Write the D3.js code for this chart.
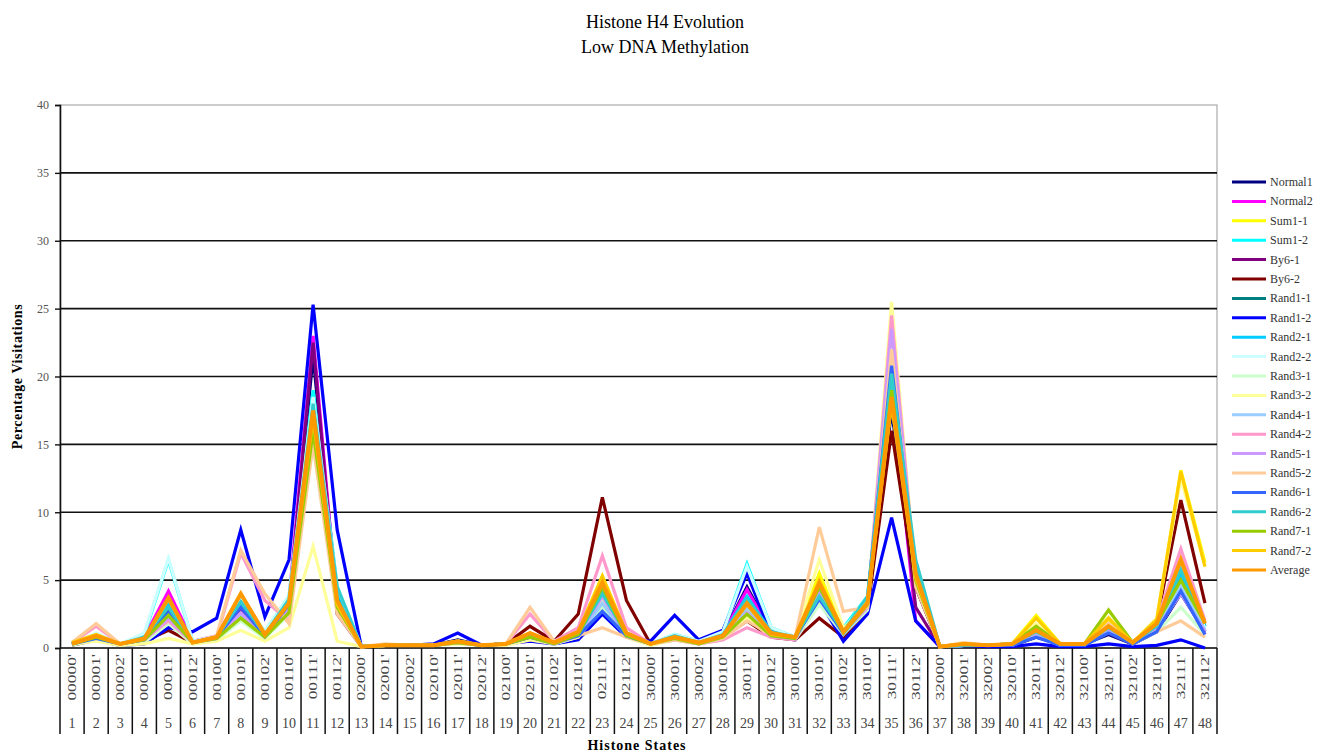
<!DOCTYPE html>
<html>
<head>
<meta charset="utf-8">
<script src="https://cdn.jsdelivr.net/npm/d3@7/dist/d3.min.js"></script>
<style>
  body { margin: 0; background: #fff; }
  svg { display: block; font-family: "Liberation Serif", "Times New Roman", serif; }
</style>
</head>
<body>
<svg id="chart" width="1332" height="752"></svg>
<script>
var states = ["00000","00001","00002","00010","00011","00012","00100","00101","00102","00110","00111","00112",
  "02000","02001","02002","02010","02011","02012","02100","02101","02102","02110","02111","02112",
  "30000","30001","30002","30010","30011","30012","30100","30101","30102","30110","30111","30112",
  "32000","32001","32002","32010","32011","32012","32100","32101","32102","32110","32111","32112"];

var seriesNames = ["Normal1","Normal2","Sum1-1","Sum1-2","By6-1","By6-2","Rand1-1","Rand1-2","Rand2-1","Rand2-2",
  "Rand3-1","Rand3-2","Rand4-1","Rand4-2","Rand5-1","Rand5-2","Rand6-1","Rand6-2","Rand7-1","Rand7-2","Average"];

var seriesColors = ["#000080","#ff00ff","#ffff00","#00ffff","#800080","#800000","#008080","#0000ff","#00ccff","#ccffff",
  "#ccffcc","#ffff99","#99ccff","#ff99cc","#cc99ff","#ffcc99","#3366ff","#33cccc","#99cc00","#ffcc00","#ff9900"];

var yTicks = [0, 5, 10, 15, 20, 25, 30, 35, 40];

// percentage visitations per state, one row per series
var normal1 = [0.3,0.8,0.3,0.6,2.8,0.5,0.8,3.0,1.0,3.2,21.5,3.5,0.1,0.2,0.2,0.2,0.6,0.2,0.3,0.9,0.4,1.0,3.5,1.0,0.3,0.9,0.4,1.0,4.5,1.2,0.8,3.8,1.0,3.0,17.5,4.5,0.1,0.2,0.2,0.2,0.8,0.3,0.3,1.0,0.3,1.2,4.0,1.2];
var normal2 = [0.3,0.8,0.3,0.8,4.2,0.5,0.9,3.0,1.0,3.5,23.0,3.0,0.1,0.2,0.2,0.2,0.5,0.2,0.3,1.0,0.4,1.2,4.2,1.0,0.3,0.8,0.4,1.0,4.3,1.2,0.8,4.0,1.0,3.0,19.5,2.0,0.1,0.2,0.2,0.2,1.0,0.3,0.3,1.2,0.4,1.2,4.3,1.0];
var sum11 = [0.4,1.0,0.3,0.7,3.5,0.4,0.8,3.8,1.0,3.2,15.5,3.0,0.1,0.2,0.2,0.2,0.5,0.2,0.3,1.0,0.4,1.2,5.3,1.0,0.3,0.8,0.4,0.9,3.0,1.0,0.8,5.5,1.2,3.5,18.0,5.0,0.1,0.3,0.2,0.3,2.4,0.3,0.3,2.0,0.4,2.0,13.1,6.3];
var sum12 = [0.3,1.0,0.3,1.0,6.5,0.5,0.8,3.6,1.2,3.8,19.0,4.5,0.1,0.2,0.2,0.2,0.5,0.2,0.3,0.9,0.4,1.0,3.2,1.0,0.3,1.0,0.5,1.2,6.2,1.5,0.8,3.5,1.5,3.8,20.0,6.0,0.1,0.2,0.2,0.3,1.0,0.3,0.3,1.2,0.4,1.5,5.0,1.5];
var by61 = [0.3,0.7,0.3,0.6,3.0,0.4,0.8,2.8,0.9,3.0,22.5,2.5,0.1,0.2,0.2,0.2,0.5,0.2,0.3,0.9,0.4,1.0,4.0,1.0,0.3,0.8,0.4,0.9,3.5,1.0,0.8,3.5,1.0,3.0,18.5,3.0,0.1,0.2,0.2,0.2,0.9,0.3,0.3,1.1,0.3,1.3,4.5,1.2];
var by62 = [0.2,0.6,0.2,0.5,1.3,0.4,0.6,2.5,0.8,3.0,16.0,3.0,0.1,0.2,0.2,0.2,0.5,0.2,0.3,1.6,0.5,2.5,11.1,3.5,0.3,0.6,0.4,0.8,2.0,0.8,0.6,2.2,0.8,2.8,16.0,4.5,0.1,0.3,0.2,0.3,1.2,0.3,0.3,1.5,0.3,2.0,10.9,3.3];
var rand11 = [0.3,0.9,0.3,0.7,3.0,0.4,0.8,3.5,1.0,3.4,17.0,4.0,0.1,0.2,0.2,0.2,0.5,0.2,0.3,1.0,0.4,1.1,4.0,1.0,0.3,0.8,0.4,0.9,3.0,1.1,0.8,4.0,1.2,3.2,19.0,5.5,0.1,0.2,0.2,0.3,1.2,0.3,0.3,1.5,0.4,1.6,5.5,1.6];
var rand12 = [0.3,0.6,0.2,0.3,1.5,1.2,2.2,8.7,2.3,6.5,25.3,8.7,0.1,0.2,0.2,0.3,1.1,0.2,0.3,0.5,0.3,0.6,2.5,0.8,0.5,2.4,0.6,1.3,5.5,1.0,0.6,3.5,0.5,2.5,9.6,2.0,0.1,0.2,0.1,0.1,0.3,0.1,0.1,0.3,0.1,0.2,0.6,0.0];
var rand21 = [0.3,0.9,0.3,0.8,3.2,0.4,0.8,3.2,1.0,3.5,18.0,4.2,0.1,0.2,0.2,0.2,0.5,0.2,0.3,1.0,0.4,1.1,4.0,1.1,0.3,0.9,0.4,1.0,3.8,1.2,0.8,4.2,1.2,3.5,19.5,5.8,0.1,0.2,0.2,0.3,1.1,0.3,0.3,1.4,0.4,1.6,5.5,1.6];
var rand22 = [0.3,1.1,0.3,1.1,6.6,0.5,0.9,3.8,1.2,3.8,18.5,4.5,0.1,0.2,0.2,0.2,0.5,0.2,0.3,0.9,0.4,1.0,3.0,1.0,0.3,1.0,0.5,1.2,6.0,1.5,0.8,3.4,1.4,3.6,19.0,5.5,0.1,0.2,0.2,0.3,1.0,0.3,0.3,1.2,0.4,1.5,4.8,1.5];
var rand31 = [0.2,0.6,0.2,0.4,1.8,0.3,0.6,2.0,0.7,2.5,15.0,3.0,0.1,0.2,0.2,0.2,0.4,0.2,0.2,0.7,0.3,0.8,3.0,0.8,0.2,0.6,0.3,0.7,2.5,0.9,0.6,3.2,1.0,2.8,21.0,5.0,0.1,0.2,0.2,0.2,0.9,0.2,0.2,1.6,0.3,1.2,3.0,1.0];
var rand32 = [0.3,0.5,0.2,0.3,0.7,0.3,0.5,1.3,0.5,1.5,7.5,0.5,0.1,0.2,0.2,0.2,0.3,0.2,0.2,0.6,0.3,0.8,3.5,0.8,0.2,0.6,0.3,0.6,2.2,0.8,0.8,6.5,1.5,3.0,25.5,5.0,0.1,0.3,0.2,0.3,1.8,0.3,0.3,2.3,0.4,2.2,12.5,6.0];
var rand41 = [0.3,0.8,0.3,0.6,2.5,0.4,0.7,2.5,0.8,3.0,16.5,3.5,0.1,0.2,0.2,0.2,0.4,0.2,0.3,0.8,0.3,0.9,3.3,0.9,0.3,0.7,0.3,0.8,3.0,1.0,0.7,3.8,1.0,3.0,20.5,5.0,0.1,0.2,0.2,0.2,1.0,0.3,0.3,1.3,0.3,1.3,4.5,1.3];
var rand42 = [0.4,1.6,0.3,0.6,2.0,0.4,0.8,7.0,3.5,2.0,15.5,3.0,0.1,0.2,0.2,0.2,0.4,0.2,0.3,2.5,0.5,1.5,6.8,1.5,0.3,0.6,0.3,0.6,1.5,0.8,0.6,4.0,1.2,3.0,24.5,5.0,0.1,0.3,0.2,0.3,1.5,0.3,0.3,1.8,0.4,2.0,7.3,2.0];
var rand51 = [0.3,0.8,0.3,0.6,2.2,0.4,0.7,2.6,0.8,2.8,16.0,3.2,0.1,0.2,0.2,0.2,0.4,0.2,0.3,0.8,0.3,0.9,3.8,0.9,0.3,0.7,0.3,0.7,2.6,0.9,0.7,4.0,1.1,3.2,23.5,5.0,0.1,0.2,0.2,0.2,1.1,0.3,0.3,1.4,0.3,1.4,4.0,1.2];
var rand52 = [0.4,1.8,0.3,0.6,2.5,0.4,0.9,7.2,4.0,1.8,15.0,2.5,0.1,0.3,0.2,0.2,0.4,0.2,0.3,3.0,0.5,0.9,1.5,0.8,0.3,0.6,0.3,0.7,2.0,1.0,0.8,8.9,2.7,3.0,22.0,4.5,0.1,0.4,0.2,0.3,1.2,0.3,0.3,1.8,0.4,1.2,2.0,0.8];
var rand61 = [0.3,0.7,0.3,0.6,2.6,0.4,0.8,3.0,0.9,3.2,17.5,3.5,0.1,0.2,0.2,0.2,0.5,0.2,0.3,0.8,0.4,0.9,2.7,0.9,0.3,0.8,0.4,0.9,3.4,1.1,0.8,3.6,1.1,3.6,20.8,5.5,0.1,0.2,0.2,0.2,0.8,0.2,0.2,1.1,0.3,1.2,4.2,1.0];
var rand62 = [0.3,0.9,0.3,0.8,3.0,0.4,0.8,3.4,1.0,3.6,18.0,4.5,0.1,0.2,0.2,0.2,0.5,0.2,0.3,1.0,0.4,1.0,4.0,1.0,0.3,0.9,0.4,1.0,3.6,1.2,0.8,3.8,1.2,3.8,20.2,6.5,0.1,0.2,0.2,0.3,1.2,0.3,0.3,1.5,0.4,1.6,5.8,1.8];
var rand71 = [0.3,0.8,0.3,0.6,2.4,0.4,0.7,2.2,0.8,2.6,16.0,3.0,0.1,0.2,0.2,0.2,0.4,0.2,0.3,0.8,0.3,1.0,4.5,0.9,0.3,0.7,0.3,0.8,2.5,0.9,0.7,4.5,1.1,3.2,19.0,5.0,0.1,0.3,0.2,0.3,1.6,0.3,0.3,2.8,0.4,1.8,5.0,1.8];
var rand72 = [0.4,1.0,0.3,0.7,3.6,0.4,0.8,4.0,1.0,3.3,17.0,3.2,0.1,0.2,0.2,0.2,0.5,0.2,0.3,1.1,0.4,1.2,5.3,1.1,0.3,0.8,0.4,0.9,3.2,1.0,0.8,5.0,1.2,3.4,18.0,5.2,0.1,0.3,0.2,0.3,2.2,0.3,0.3,2.2,0.4,2.1,13.0,6.0];
var average = [0.3,0.9,0.3,0.7,3.7,0.4,0.8,4.0,1.0,3.3,17.5,3.5,0.1,0.2,0.2,0.2,0.5,0.2,0.3,1.1,0.4,1.2,4.8,1.1,0.3,0.8,0.4,0.9,3.3,1.1,0.8,4.8,1.2,3.3,18.5,5.5,0.1,0.3,0.2,0.3,1.3,0.3,0.3,1.6,0.4,1.8,6.5,1.8];

var seriesValues = [normal1, normal2, sum11, sum12, by61, by62, rand11, rand12, rand21, rand22,
  rand31, rand32, rand41, rand42, rand51, rand52, rand61, rand62, rand71, rand72, average];

var series = seriesNames.map(function(name, i) {
  return { name: name, color: seriesColors[i], values: seriesValues[i] };
});

var svg = d3.select("#chart"),
    margin = { left: 60, right: 115, top: 105, bottom: 104 },
    width = 1332 - margin.left - margin.right,
    height = 752 - margin.top - margin.bottom;

var x = d3.scaleBand().domain(states).range([margin.left, margin.left + width]),
    y = d3.scaleLinear().domain([0, 40]).range([margin.top + height, margin.top]);

// titles
svg.append("text")
    .attr("x", 665).attr("y", 28)
    .attr("text-anchor", "middle")
    .style("font-size", "18px")
    .text("Histone H4 Evolution");
svg.append("text")
    .attr("x", 665).attr("y", 53)
    .attr("text-anchor", "middle")
    .style("font-size", "18px")
    .text("Low DNA Methylation");

// plot frame (grey top and right)
svg.append("rect")
    .attr("x", margin.left).attr("y", margin.top)
    .attr("width", width).attr("height", height)
    .attr("fill", "none")
    .attr("stroke", "#999")
    .attr("stroke-width", 1);

// gridlines
svg.append("g")
    .selectAll("line")
    .data(yTicks.filter(function(t) { return t > 0 && t < 40; }))
    .enter().append("line")
      .attr("x1", margin.left).attr("x2", margin.left + width)
      .attr("y1", function(d) { return y(d); })
      .attr("y2", function(d) { return y(d); })
      .attr("stroke", "#111")
      .attr("stroke-width", 1.6);

// y axis
var yAxis = svg.append("g")
    .attr("transform", "translate(" + margin.left + ",0)")
    .call(d3.axisLeft(y).tickValues(yTicks).tickSize(5).tickPadding(6));
yAxis.select(".domain").attr("stroke", "#111").attr("stroke-width", 1.6);
yAxis.selectAll(".tick line").attr("stroke", "#111").attr("stroke-width", 1.4);
yAxis.selectAll("text")
    .style("font-family", "Liberation Serif, serif")
    .style("font-size", "12px")
    .attr("fill", "#555");

svg.append("text")
    .attr("transform", "translate(22," + (margin.top + height / 2) + ") rotate(-90)")
    .attr("text-anchor", "middle")
    .style("font-size", "14px")
    .style("font-weight", "bold")
    .style("letter-spacing", "0.6px")
    .text("Percentage Visitations");

// x axis table: separators, rotated state labels, index numbers
var x0 = margin.top + height;
var xg = svg.append("g").attr("class", "x-table");
xg.append("line")
    .attr("x1", margin.left).attr("x2", margin.left + width)
    .attr("y1", x0).attr("y2", x0)
    .attr("stroke", "#111").attr("stroke-width", 1.6);
xg.selectAll("line.sep")
    .data(states.concat(["end"]))
    .enter().append("line")
      .attr("class", "sep")
      .attr("x1", function(d, i) { return margin.left + i * x.bandwidth(); })
      .attr("x2", function(d, i) { return margin.left + i * x.bandwidth(); })
      .attr("y1", x0).attr("y2", x0 + 86)
      .attr("stroke", "#111").attr("stroke-width", 1.5);
xg.selectAll("text.state")
    .data(states)
    .enter().append("text")
      .attr("class", "state")
      .attr("transform", function(d) {
        return "translate(" + (x(d) + x.bandwidth() / 2 + 4) + "," + (x0 + 6) + ") rotate(-90) scale(1.45,1)";
      })
      .attr("text-anchor", "end")
      .style("font-size", "12px")
      .attr("fill", "#444")
      .text(function(d) { return d + "'"; });
xg.selectAll("text.idx")
    .data(states)
    .enter().append("text")
      .attr("class", "idx")
      .attr("x", function(d) { return x(d) + x.bandwidth() / 2; })
      .attr("y", x0 + 80)
      .attr("text-anchor", "middle")
      .style("font-size", "14px")
      .attr("fill", "#444")
      .text(function(d, i) { return i + 1; });

svg.append("text")
    .attr("x", 637).attr("y", 750)
    .attr("text-anchor", "middle")
    .style("font-size", "14px")
    .style("font-weight", "bold")
    .style("letter-spacing", "1px")
    .text("Histone States");

// series lines
var line = d3.line()
    .x(function(d, i) { return x(states[i]) + x.bandwidth() / 2; })
    .y(function(d) { return y(d); });

svg.append("g")
    .selectAll("path")
    .data(series)
    .enter().append("path")
      .attr("d", function(s) { return line(s.values); })
      .attr("fill", "none")
      .attr("stroke", function(s) { return s.color; })
      .attr("stroke-width", function(s) { return s.name === "Average" ? 4 : 3.2; })
      .attr("stroke-linejoin", "miter");

// legend
var legend = svg.append("g")
    .attr("transform", "translate(1232,182)")
    .selectAll("g")
    .data(series)
    .enter().append("g")
      .attr("transform", function(s, i) { return "translate(0," + (i * 19.4) + ")"; });
legend.append("line")
    .attr("x1", 0).attr("x2", 34)
    .attr("stroke", function(s) { return s.color; })
    .attr("stroke-width", 3);
legend.append("text")
    .attr("x", 38).attr("y", 4)
    .style("font-size", "12px")
    .attr("fill", "#333")
    .text(function(s) { return s.name; });
</script>
</body>
</html>
